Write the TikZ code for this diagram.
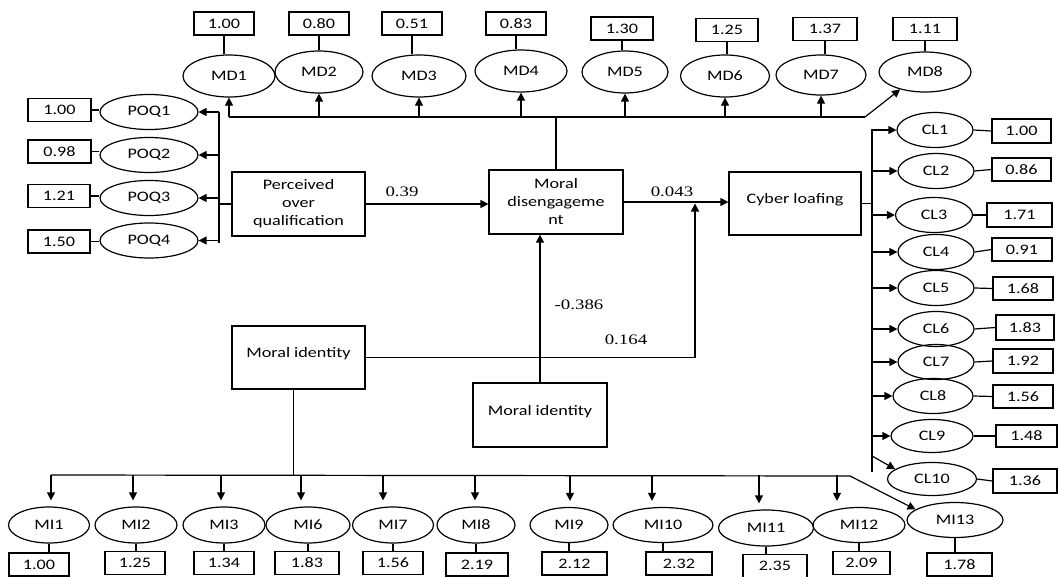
\documentclass[tikz,border=0pt]{standalone}
\usepackage{fontspec}
\setmainfont{Carlito}[FakeStretch=1.25]
\newfontfamily\numfont{Liberation Serif}[FakeStretch=1.3]
\usetikzlibrary{shapes.geometric,arrows.meta}
\begin{document}
\begin{tikzpicture}[x=1pt,y=-1pt,
  every node/.style={font=\fontsize{14.5}{18}\selectfont, inner sep=0pt},
  ell/.style={draw, ellipse, line width=1.2pt, minimum height=35pt},
  val/.style={draw, rectangle, line width=1.2pt, minimum width=60pt, minimum height=23pt},
  blk/.style={draw, rectangle, line width=1.2pt, align=center},
  oneline/.style={text height=6pt, text depth=6pt},
  ln/.style={line width=1.2pt},
  arr/.style={line width=1.2pt, -{Triangle[length=8pt,width=8pt]}},
  coef/.style={font=\numfont\fontsize{14.5}{18}\selectfont}
]
\useasboundingbox (0,0) rectangle (1058,576);

% ---------- main blocks
\node[blk, minimum width=133pt, minimum height=64pt] (poq) at (298.5,204) {Perceived\\over\\qualification};
\node[blk, minimum width=134pt, minimum height=64pt] (md) at (556,202) {Moral\\disengageme\\nt};
\node[blk, oneline, minimum width=132pt, minimum height=63pt] (cl) at (795,203.5) {Cyber loafing};
\node[blk, oneline, minimum width=133pt, minimum height=63pt] (mi) at (298.5,357.5) {Moral identity};
\node[blk, oneline, minimum width=134pt, minimum height=64pt] (miB) at (540,415) {Moral identity};

% ---------- MD indicators
\node[ell, minimum width=92pt, minimum height=42pt] (m1) at (229,76) {MD1};
\node[ell, minimum width=88pt, minimum height=42pt] (m2) at (319,72) {MD2};
\node[ell, minimum width=94pt, minimum height=42pt] (m3) at (419,76) {MD3};
\node[ell, minimum width=92pt, minimum height=42pt] (m4) at (521,71) {MD4};
\node[ell, minimum width=86pt, minimum height=42pt] (m5) at (625,72) {MD5};
\node[ell, minimum width=89pt, minimum height=42pt] (m6) at (725,76) {MD6};
\node[ell, minimum width=90pt, minimum height=40pt] (m7) at (821,75) {MD7};
\node[ell, minimum width=92pt, minimum height=40pt] (m8) at (925,72) {MD8};

\node[val] (mv1) at (224,23.5) {1.00};
\node[val] (mv2) at (319,23.5) {0.80};
\node[val] (mv3) at (412,23.5) {0.51};
\node[val] (mv4) at (516,23.5) {0.83};
\node[val, minimum width=62pt] (mv5) at (622,28.5) {1.30};
\node[val, minimum width=62pt] (mv6) at (727,30) {1.25};
\node[val, minimum width=64pt] (mv7) at (825,29) {1.37};
\node[val, minimum width=64pt] (mv8) at (925,29) {1.11};

\foreach \i in {1,...,8} \draw[ln] (mv\i.south) -- (mv\i.south |- m\i.north);

\coordinate (mdbR) at (865,117);
\draw[ln] (m1.south |- mdbR) -- (mdbR);
\foreach \i in {1,...,7} \draw[arr] (m\i.south |- mdbR) -- (m\i.south);
\draw[arr] (mdbR) -- (m8.215);
\draw[ln] (md.north) -- (md.north |- mdbR);

% ---------- POQ indicators
\node[ell, minimum width=98pt] (q1) at (149,112) {POQ1};
\node[ell, minimum width=98pt] (q2) at (149,155) {POQ2};
\node[ell, minimum width=98pt] (q3) at (149,198) {POQ3};
\node[ell, minimum width=98pt] (q4) at (149,240.5) {POQ4};
\node[val, minimum width=63pt] (qv1) at (59.5,110) {1.00};
\node[val, minimum width=63pt] (qv2) at (59.5,151.5) {0.98};
\node[val, minimum width=62pt] (qv3) at (59,196) {1.21};
\node[val, minimum width=62pt] (qv4) at (59,241.5) {1.50};
\foreach \i in {1,...,4} \draw[ln] (qv\i.east) -- (qv\i.east -| q\i.west);

\coordinate (pbT) at (219,112);
\coordinate (pbB) at (219,243);
\draw[ln] (pbT) -- (pbB);
\draw[ln] (poq.west) -- (poq.west -| pbT);
\foreach \i in {1,...,4} \draw[arr] (q\i.east -| pbT) -- (q\i.east);

% ---------- CL indicators
\node[ell, minimum width=76pt] (c1) at (935,130) {CL1};
\node[ell, minimum width=76pt] (c2) at (936,171) {CL2};
\node[ell, minimum width=77pt] (c3) at (934,215) {CL3};
\node[ell, minimum width=76pt] (c4) at (936,252) {CL4};
\node[ell, minimum width=76pt] (c5) at (936,288) {CL5};
\node[ell, minimum width=76pt] (c6) at (936,329) {CL6};
\node[ell, minimum width=76pt] (c7) at (936,362) {CL7};
\node[ell, minimum width=80pt] (c8) at (933,396) {CL8};
\node[ell, minimum width=82pt, minimum height=33pt] (c9) at (932,436) {CL9};
\node[ell, minimum width=89pt, minimum height=33pt] (c10) at (932,479) {CL10};

\node[val, minimum width=59pt, minimum height=24pt] (cv1) at (1021.5,131) {1.00};
\node[val, minimum width=59pt] (cv2) at (1021.5,169.5) {0.86};
\node[val, minimum width=65pt, minimum height=24pt] (cv3) at (1019.5,215) {1.71};
\node[val] (cv4) at (1022,249.5) {0.91};
\node[val] (cv5) at (1023,288.5) {1.68};
\node[val, minimum width=58pt, minimum height=25pt] (cv6) at (1025,327.5) {1.83};
\node[val, minimum height=24pt] (cv7) at (1023,361) {1.92};
\node[val] (cv8) at (1023,396.5) {1.56};
\node[val, minimum width=61pt, minimum height=22pt] (cv9) at (1026.5,436) {1.48};
\node[val, minimum width=64pt, minimum height=24pt] (cv10) at (1025,481) {1.36};
\foreach \i in {1,...,10} \draw[ln] (c\i.east) -- (cv\i.west);

\coordinate (cbT) at (872,129);
\coordinate (cbB) at (872,472);
\coordinate (cb10) at (872,456);
\draw[ln] (cbT) -- (cbB);
\draw[ln] (cl.east) -- (cl.east -| cbT);
\foreach \i in {1,...,9} \draw[arr] (c\i.west -| cbT) -- (c\i.west);
\draw[arr] (cb10) -- (c10.165);

% ---------- MI indicators
\node[ell, minimum width=81pt, minimum height=36pt] (n1) at (49,525) {MI1};
\node[ell, minimum width=82pt, minimum height=36pt] (n2) at (136,525) {MI2};
\node[ell, minimum width=82pt, minimum height=36pt] (n3) at (224,525) {MI3};
\node[ell, minimum width=84pt, minimum height=36pt] (n6) at (308,525) {MI6};
\node[ell, minimum width=81pt, minimum height=36pt] (n7) at (393,525) {MI7};
\node[ell, minimum width=78pt, minimum height=36pt] (n8) at (476,525) {MI8};
\node[ell, minimum width=78pt, minimum height=35pt] (n9) at (569,525) {MI9};
\node[ell, minimum width=100pt, minimum height=35pt] (n10) at (663,525) {MI10};
\node[ell, minimum width=95pt, minimum height=36pt] (n11) at (766,528) {MI11};
\node[ell, minimum width=92pt, minimum height=35pt] (n12) at (859,525) {MI12};
\node[ell, minimum width=96pt, minimum height=35pt] (n13) at (955,520) {MI13};

\node[val] (nv1) at (39,564.5) {1.00};
\node[val] (nv2) at (135,563) {1.25};
\node[val] (nv3) at (224,563) {1.34};
\node[val, minimum width=64pt] (nv6) at (307,563) {1.83};
\node[val] (nv7) at (393,563) {1.56};
\node[val, minimum width=62pt] (nv8) at (477,564.5) {2.19};
\node[val, minimum width=65pt] (nv9) at (574.5,563.5) {2.12};
\node[val, minimum width=66pt] (nv10) at (679,563.5) {2.32};
\node[val, minimum width=64pt] (nv11) at (775,566) {2.35};
\node[val, minimum width=57pt] (nv12) at (861.5,563) {2.09};
\node[val, minimum width=65pt] (nv13) at (959.5,564.5) {1.78};
\foreach \i in {1,2,3,6,7,8,9,10,11,12,13} \draw[ln] (n\i.south) -- (n\i.south |- nv\i.north);

\coordinate (mbJ) at (293.5,475);
\coordinate (mbL) at (51,475);
\coordinate (mbR) at (850,476);
\draw[ln] ([xshift=-5pt]mi.south) -- (mbJ);
\draw[ln] (mbL) -- (mbR);
\draw[arr] (mbR) -- (n13.165);
\foreach \x/\n in {51/1,133/2,221/3,301/6,383/7,475/8,570/9,652/10,759/11,837/12} {
  \coordinate (tmp) at (\x,475);
  \draw[arr, shorten >=6pt] (tmp) -- (tmp |- n\n.north);
}

% ---------- structural paths
\draw[arr] (poq.east) -- (poq.east -| md.west);
\draw[arr] (md.east) -- (md.east -| cl.west);
\draw[arr] (miB.north) -- (miB.north |- md.south);
\coordinate (jx) at (695,357.5);
\draw[ln] (mi.east) -- (jx);
\draw[arr] (jx) -- (695,203.5);

\node[coef] (k1) at (402,192) {0.39};
\node[coef] (k2) at (672,192) {0.043};
\node[coef] (k3) at (579,305) {-0.386};
\node[coef] (k4) at (626,340) {0.164};
\end{tikzpicture}
\end{document}
